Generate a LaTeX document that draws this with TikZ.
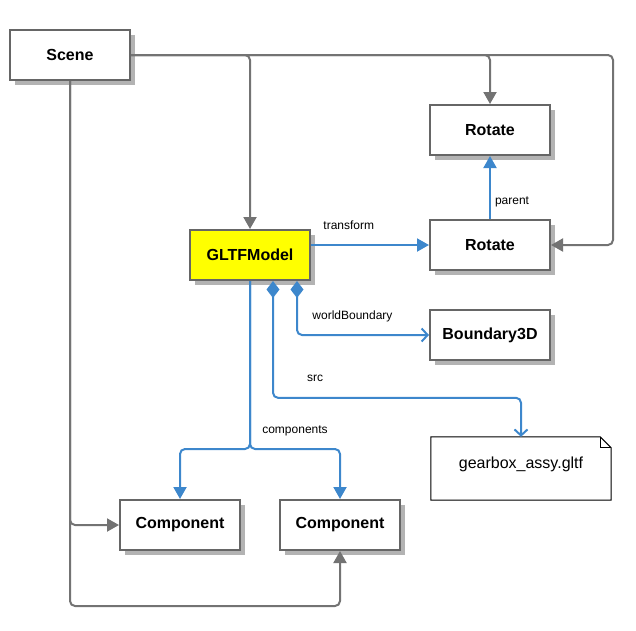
\documentclass[tikz,border=0pt]{standalone}
\usepackage{fontspec}
\setmainfont{Liberation Sans}
\usetikzlibrary{arrows.meta,shadows,backgrounds}
\definecolor{boxgray}{HTML}{666666}
\definecolor{linegray}{HTML}{737373}
\definecolor{shadowgray}{HTML}{B3B3B3}
\definecolor{linkblue}{HTML}{3D87CC}
\definecolor{modelyellow}{HTML}{FFFF00}
\begin{document}
\begin{tikzpicture}[x=1pt, y=-1pt,
  cls/.style={draw=boxgray, line width=2pt, fill=white, minimum width=120pt, minimum height=50pt,
    font=\fontsize{16}{19}\selectfont\bfseries,
    drop shadow={shadow xshift=5pt, shadow yshift=-5pt, fill=shadowgray, opacity=1}},
  ref/.style={draw=linegray, line width=2pt, rounded corners=5pt, -{Triangle[length=12pt,width=13pt]}},
  assoc/.style={draw=linkblue, line width=2pt, rounded corners=5pt, -{Triangle[length=12pt,width=13pt]}},
  part/.style={draw=linkblue, line width=2pt, rounded corners=5pt,
    {Diamond[length=17pt,width=13pt]}-{Straight Barb[length=6pt,width=13pt]}},
  lbl/.style={font=\fontsize{12}{14}\selectfont, inner sep=1pt, text height=9pt, text depth=3pt}]
\useasboundingbox (0,0) rectangle (636,630); % page
\node[cls] (scene) at (70,55) {Scene}; % scene
\node[cls] (rotA) at (490,130) {Rotate}; % parent rotate
\node[cls] (rotB) at (490,245) {Rotate}; % model rotate
\node[cls, fill=modelyellow] (gltf) at (250,255) {GLTFModel}; % model
\node[cls] (bnd) at (490,335) {Boundary3D}; % boundary
\node[cls] (compA) at (180,525) {Component}; % left component
\node[cls] (compB) at (340,525) {Component}; % right component
\node[minimum width=180pt, minimum height=63pt, text height=12pt, text depth=13pt,
  font=\fontsize{16}{19}\selectfont] (file) at (521,468.5) {gearbox\_assy.gltf}; % file note
\begin{scope}[on background layer]
\fill[shadowgray, xshift=5pt, yshift=-5pt] (file.south west) -- (file.north west) -- ([xshift=-11pt]file.north east)
  -- ([yshift=-11pt]file.north east) -- (file.south east) -- cycle; % note shadow
\draw[fill=white, line width=1pt] (file.south west) -- (file.north west) -- ([xshift=-11pt]file.north east)
  -- ([yshift=-11pt]file.north east) -- (file.south east) -- cycle; % note outline
\draw[line width=1pt] ([xshift=-11pt]file.north east) -- ([xshift=-11pt,yshift=-11pt]file.north east)
  -- ([yshift=-11pt]file.north east); % folded corner
\end{scope}
% scene references
\draw[ref] (scene.east) -| (gltf.north); % to model
\draw[ref] (scene.east) -| (rotA.north); % to parent rotate
\draw[ref] (scene.east) -| ([xshift=62pt]rotB.east) -- (rotB.east); % to model rotate
\draw[ref] (scene.south) |- (compA.west); % to left component
\draw[ref] (scene.south) |- ([yshift=-55pt]compB.south) -- (compB.south); % to right component
% model links
\draw[assoc] (gltf.east |- rotB.west) -- node[lbl, pos=0.32, above=11pt] {transform} (rotB.west); % transform
\draw[assoc] (rotB.north) -- node[lbl, pos=0.28, right=3pt] {parent} (rotA.south); % parent
\draw[part] ([xshift=47pt]gltf.south) |- node[lbl, pos=0.71, above=11pt] {worldBoundary} (bnd.west); % boundary
\draw[part] ([xshift=23pt]gltf.south) |- node[lbl, pos=0.585, above=11pt] {src}
  ([yshift=39pt]file.north) -- (file.north); % source file
\draw[assoc] (gltf.south) |- ([yshift=50pt]compA.north) -- (compA.north); % left component
\draw[assoc] (gltf.south) |- node[lbl, pos=0.75, above=11pt] {components}
  ([yshift=50pt]compB.north) -- (compB.north); % right component
\end{tikzpicture}
\end{document}
